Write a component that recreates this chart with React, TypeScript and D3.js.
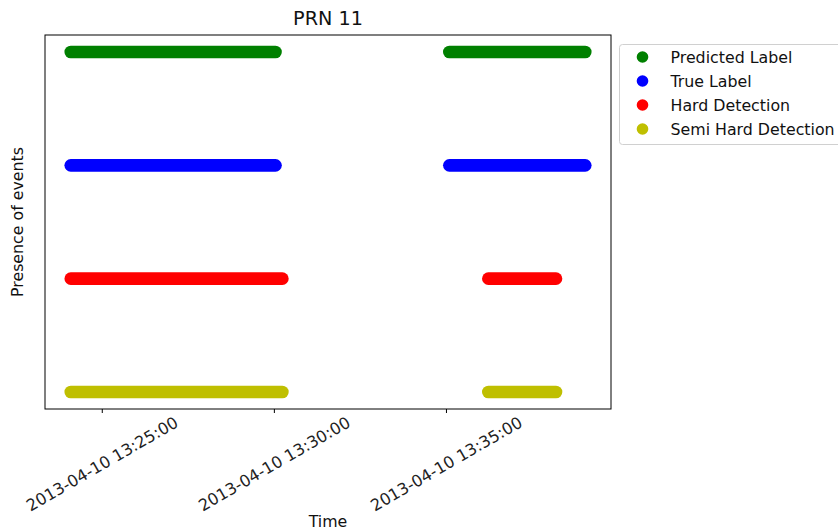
import React from "react";
import * as d3 from "d3";

const W = 838, H = 531;
const M = { left: 45, right: 611, top: 35, bottom: 409 };

const day = "2013-04-10";
const seriesNames = ["Predicted Label", "True Label", "Hard Detection", "Semi Hard Detection"];
const seriesLevels = [3, 2, 1, 0];
const seriesColors = ["#008000", "#0000ff", "#ff0000", "#bfbf00"];

// Event intervals (start / end times)
const predictedStarts = ["13:24:05", "13:35:05"];
const predictedEnds = ["13:30:02", "13:39:02"];
const trueStarts = ["13:24:05", "13:35:05"];
const trueEnds = ["13:30:02", "13:39:02"];
const hardStarts = ["13:24:05", "13:36:13"];
const hardEnds = ["13:30:14", "13:38:11"];
const semiStarts = ["13:24:05", "13:36:13"];
const semiEnds = ["13:30:14", "13:38:11"];

const tickTimes = ["13:25:00", "13:30:00", "13:35:00"];

const parse = (t: string) => new Date(`${day}T${t}Z`);

const seriesIntervals = [
  [predictedStarts, predictedEnds],
  [trueStarts, trueEnds],
  [hardStarts, hardEnds],
  [semiStarts, semiEnds],
];

export default function App() {
  const allTimes = seriesIntervals.flatMap(([s, e]) => [...s, ...e]).map(parse);
  const [tMin, tMax] = d3.extent(allTimes) as [Date, Date];
  const pad = (tMax.getTime() - tMin.getTime()) * 0.05;
  const x = d3
    .scaleUtc()
    .domain([new Date(tMin.getTime() - pad), new Date(tMax.getTime() + pad)])
    .range([M.left, M.right]);
  const y = d3.scaleLinear().domain([-0.15, 3.15]).range([M.bottom, M.top]);
  const fmt = d3.utcFormat("%Y-%m-%d %H:%M:%S");
  const font = "DejaVu Sans, sans-serif";
  const cx = (M.left + M.right) / 2;
  const fs = 15.8;

  return (
    <svg width={W} height={H} style={{ position: "absolute", left: 0, top: 0, background: "#fff" }} fontFamily={font}>
      <rect x={0} y={0} width={W} height={H} fill="#fff" />
      {seriesIntervals.map(([s, e], i) =>
        s.map((st, j) => (
          <line
            key={`${i}-${j}`}
            x1={x(parse(st))}
            x2={x(parse(e[j]))}
            y1={y(seriesLevels[i])}
            y2={y(seriesLevels[i])}
            stroke={seriesColors[i]}
            strokeWidth={12.6}
            strokeLinecap="round"
          />
        ))
      )}
      <rect x={M.left} y={M.top} width={M.right - M.left} height={M.bottom - M.top} fill="none" stroke="#000" strokeWidth={1} />
      {tickTimes.map((t) => {
        const tx = x(parse(t));
        return (
          <g key={t}>
            <line x1={tx} x2={tx} y1={M.bottom} y2={M.bottom + 4} stroke="#000" strokeWidth={1} />
            <text
              transform={`translate(${tx},${M.bottom + 55}) rotate(-30)`}
              textAnchor="middle"
              dominantBaseline="central"
              fontSize={16.2}
              fill="#222"
            >
              {fmt(parse(t))}
            </text>
          </g>
        );
      })}
      <text x={cx} y={25} textAnchor="middle" fontSize={19.2} fill="#111">PRN 11</text>
      <text x={cx} y={527} textAnchor="middle" fontSize={fs} fill="#111">Time</text>
      <text
        transform={`translate(23,${(M.top + M.bottom) / 2}) rotate(-90)`}
        textAnchor="middle"
        fontSize={fs}
        fill="#111"
      >
        Presence of events
      </text>
      <rect x={619.5} y={44.5} width={240} height={100} rx={3} fill="#fff" stroke="#d0d0d0" strokeWidth={1} />
      {seriesNames.map((n, i) => {
        const ly = 57 + i * 24;
        return (
          <g key={n}>
            <circle cx={642.5} cy={ly} r={5.8} fill={seriesColors[i]} />
            <text x={670.5} y={ly} dominantBaseline="central" fontSize={fs} fill="#111">{n}</text>
          </g>
        );
      })}
    </svg>
  );
}
